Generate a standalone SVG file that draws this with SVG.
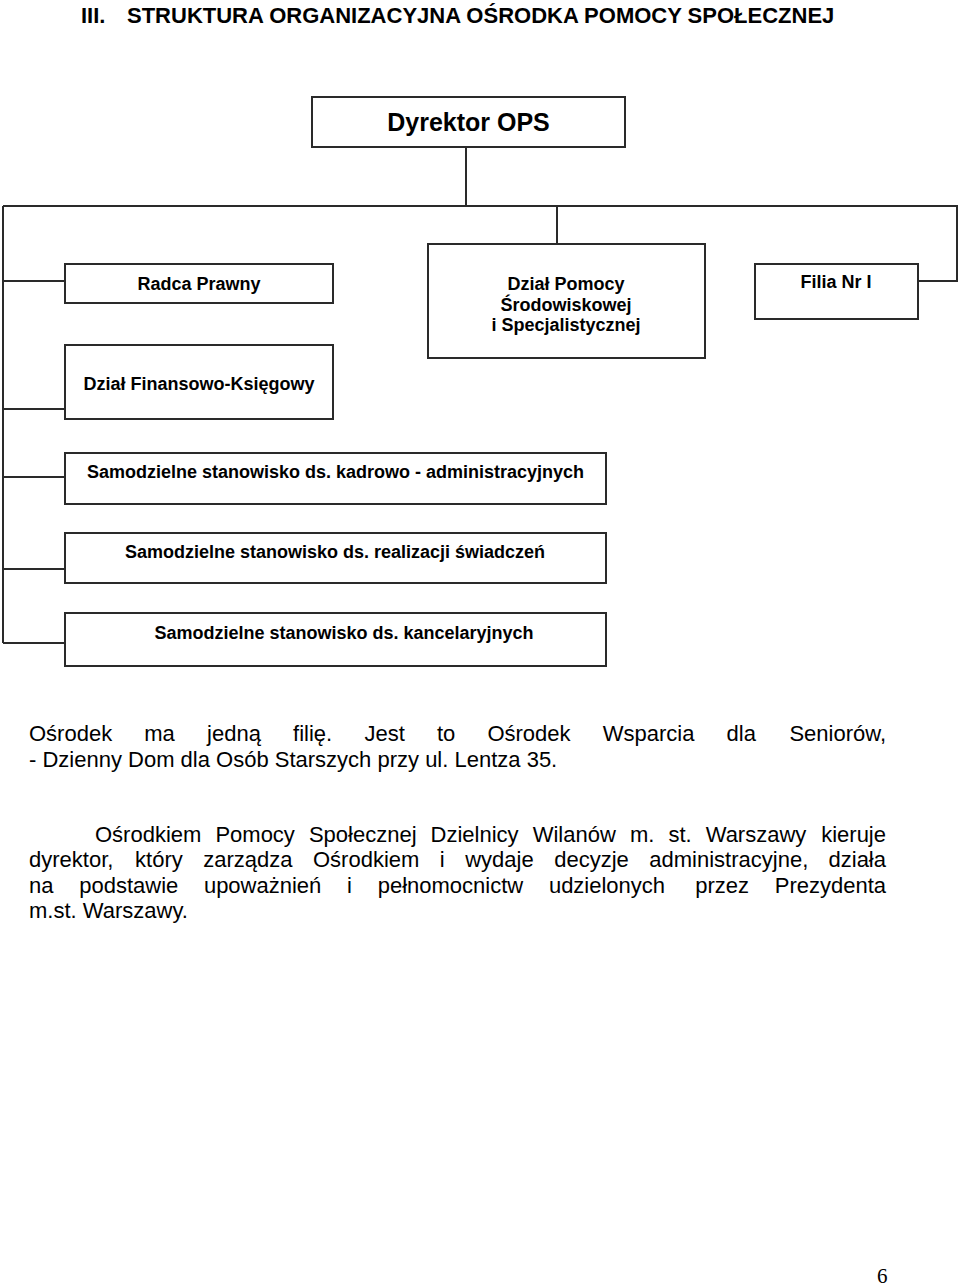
<svg xmlns="http://www.w3.org/2000/svg" width="960" height="1288" viewBox="0 0 960 1288">
<style>
.box{fill:#fff;stroke:#2a2a2a;stroke-width:2}
.con{fill:none;stroke:#2a2a2a;stroke-width:2}
.lbl{font-family:"Liberation Sans",Arial,sans-serif;font-weight:bold;font-size:18px;fill:#000;text-anchor:middle}
.para{font-family:"Liberation Sans",Arial,sans-serif;font-size:22px;fill:#000}
.end{text-anchor:end}
.title{font-family:"Liberation Sans",Arial,sans-serif;font-weight:bold;font-size:22px;fill:#000}
</style>
<rect width="960" height="1288" fill="#fff"/>
<text class="title" y="23"><tspan x="81">III.</tspan><tspan x="127">STRUKTURA ORGANIZACYJNA OŚRODKA POMOCY SPOŁECZNEJ</tspan></text>
<g id="connectors">
<path class="con" d="M466,147 V206"/>
<path class="con" d="M3,206 H957 V281 H918"/>
<path class="con" d="M557,206 V244"/>
<path class="con" d="M3,206 V643"/>
<path class="con" d="M3,281 H65"/>
<path class="con" d="M3,409 H65"/>
<path class="con" d="M3,477 H65"/>
<path class="con" d="M3,569 H65"/>
<path class="con" d="M3,643 H65"/>
</g>
<g id="dyrektor">
<rect class="box" x="312" y="97" width="313" height="50"/>
<text class="lbl" x="468.5" y="131" style="font-size:25px">Dyrektor OPS</text>
</g>
<g id="radca">
<rect class="box" x="65" y="264" width="268" height="39"/>
<text class="lbl" x="199" y="289.5">Radca Prawny</text>
</g>
<g id="dzial-pomocy">
<rect class="box" x="428" y="244" width="277" height="114"/>
<text class="lbl" x="566" y="290">Dział Pomocy</text>
<text class="lbl" x="566" y="310.5">Środowiskowej</text>
<text class="lbl" x="566" y="331">i Specjalistycznej</text>
</g>
<g id="filia">
<rect class="box" x="755" y="264" width="163" height="55"/>
<text class="lbl" x="836" y="288">Filia Nr I</text>
</g>
<g id="finansowo">
<rect class="box" x="65" y="345" width="268" height="74"/>
<text class="lbl" x="199" y="390">Dział Finansowo-Księgowy</text>
</g>
<g id="kadrowo">
<rect class="box" x="65" y="453" width="541" height="51"/>
<text class="lbl" x="335.5" y="478">Samodzielne stanowisko ds. kadrowo - administracyjnych</text>
</g>
<g id="realizacji">
<rect class="box" x="65" y="533" width="541" height="50"/>
<text class="lbl" x="335" y="558">Samodzielne stanowisko ds. realizacji świadczeń</text>
</g>
<g id="kancelaryjnych">
<rect class="box" x="65" y="613" width="541" height="53"/>
<text class="lbl" x="344" y="639">Samodzielne stanowisko ds. kancelaryjnych</text>
</g>
<text class="para" y="741"><tspan x="29">Ośrodek</tspan><tspan x="144.3">ma</tspan><tspan x="207.1">jedną</tspan><tspan x="293.1">filię.</tspan><tspan x="364.4">Jest</tspan><tspan x="436.9">to</tspan><tspan x="487.4">Ośrodek</tspan><tspan x="602.7">Wsparcia</tspan><tspan x="726.6">dla</tspan></text>
<text class="para end" x="886" y="741">Seniorów,</text>
<text class="para" x="29" y="766.5">- Dzienny Dom dla Osób Starszych przy ul. Lentza 35.</text>
<text class="para" y="841.5"><tspan x="95">Ośrodkiem</tspan><tspan x="215.4">Pomocy</tspan><tspan x="308.9">Społecznej</tspan><tspan x="430.6">Dzielnicy</tspan><tspan x="532.7">Wilanów</tspan><tspan x="629.9">m.</tspan><tspan x="668.4">st.</tspan><tspan x="705.7">Warszawy</tspan></text>
<text class="para end" x="886" y="841.5">kieruje</text>
<text class="para" y="867"><tspan x="29">dyrektor,</tspan><tspan x="135.1">który</tspan><tspan x="203.2">zarządza</tspan><tspan x="313">Ośrodkiem</tspan><tspan x="439.8">i</tspan><tspan x="465.2">wydaje</tspan><tspan x="554.2">decyzje</tspan><tspan x="649.3">administracyjne,</tspan></text>
<text class="para end" x="886" y="867">działa</text>
<text class="para" y="892.5"><tspan x="29">na</tspan><tspan x="79.2">podstawie</tspan><tspan x="203.9">upoważnień</tspan><tspan x="347.1">i</tspan><tspan x="377.7">pełnomocnictw</tspan><tspan x="548.9">udzielonych</tspan><tspan x="695.2">przez</tspan></text>
<text class="para end" x="886" y="892.5">Prezydenta</text>
<text class="para" x="29" y="918">m.st. Warszawy.</text>
<text x="877" y="1283" style="font-family:'Liberation Serif','Times New Roman',serif;font-size:21px;fill:#000">6</text>
</svg>
